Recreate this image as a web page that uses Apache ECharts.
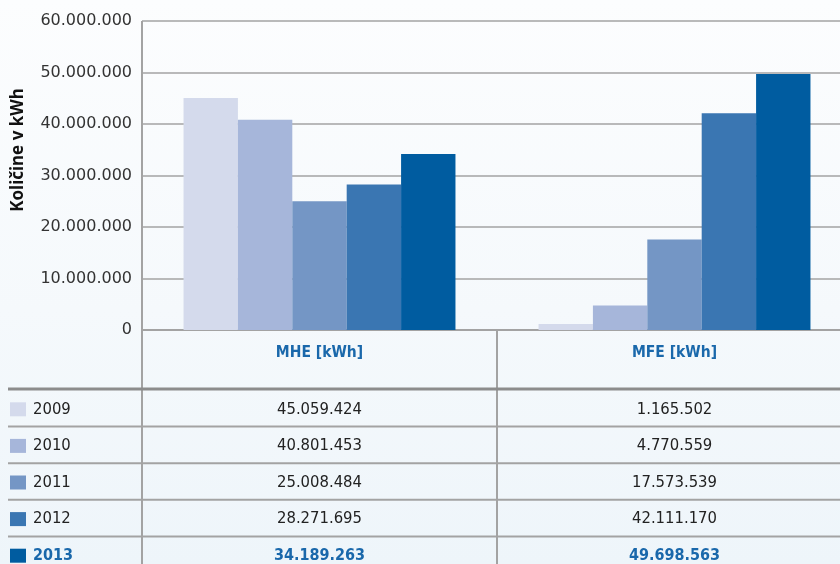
<!DOCTYPE html>
<html>
<head>
<meta charset="utf-8">
<script src="https://cdn.jsdelivr.net/npm/echarts@6/dist/echarts.min.js"></script>
<style>
  html, body { margin: 0; padding: 0; }
  #chart { width: 840px; height: 564px; }
</style>
</head>
<body>
<div id="chart"></div>
<script>
// podatki
var categories = ['MHE [kWh]', 'MFE [kWh]'];
var years = ['2009', '2010', '2011', '2012', '2013'];
var mhe = [45059424, 40801453, 25008484, 28271695, 34189263];
var mfe = [1165502, 4770559, 17573539, 42111170, 49698563];
var colors = ['#d4daec', '#a6b6da', '#7496c5', '#3a76b2', '#005ca0'];
var yTicks = [0, 10000000, 20000000, 30000000, 40000000, 50000000, 60000000];

var narrow = '"Liberation Sans Narrow", "DejaVu Sans Condensed", sans-serif';
var lineCol = '#a3a3a3';
var blue = '#1a68ab';

function fmt(v) {
  return String(v).replace(/\B(?=(\d{3})+(?!\d))/g, '.');
}

var chart = echarts.init(document.getElementById('chart'));

var series = years.map(function (y, i) {
  return {
    name: y,
    type: 'bar',
    data: [mhe[i], mfe[i]],
    barGap: '0%',
    barCategoryGap: '23.4%',
    itemStyle: { color: colors[i] }
  };
});

chart.setOption({
  animation: false,
  backgroundColor: {
    type: 'linear', x: 0, y: 0, x2: 0, y2: 1,
    colorStops: [
      { offset: 0, color: '#fcfdfe' },
      { offset: 0.55, color: '#f5f9fc' },
      { offset: 1, color: '#eef5fa' }
    ]
  },
  grid: { left: 142, top: 21, width: 710, height: 309, outerBoundsMode: 'none', containLabel: false },
  xAxis: {
    type: 'category',
    data: categories,
    axisLine: { lineStyle: { color: lineCol, width: 2 } },
    axisTick: { show: false },
    axisLabel: {
      margin: 15,
      fontFamily: narrow,
      fontSize: 15.5,
      fontWeight: 'bold',
      color: blue
    }
  },
  yAxis: {
    type: 'value',
    min: yTicks[0],
    max: yTicks[yTicks.length - 1],
    interval: 10000000,
    axisLine: { show: false },
    axisTick: { show: false },
    axisLabel: {
      margin: 10,
      fontFamily: 'DejaVu Sans',
      fontSize: 16,
      color: '#333',
      formatter: function (v) { return fmt(v); }
    },
    splitLine: { lineStyle: { color: lineCol, width: 1.5 } }
  },
  series: series
});

// tabela pod grafom
function buildTable() {
  var g = [];
  var x0 = 142, yTop = 21, yAxis0 = 330;
  var headBottom = 389, rowH = 36.6;
  var cols = categories.map(function (c) {
    return chart.convertToPixel({ xAxisIndex: 0 }, c);
  });
  var mid = (cols[0] + cols[1]) / 2;

  // ime osi
  g.push({
    type: 'text', x: 18, y: 150, rotation: Math.PI / 2,
    style: {
      text: 'Količine v kWh', font: 'bold 17px "Noto Sans"', fill: '#111',
      align: 'center', verticalAlign: 'middle'
    }
  });
  // navpične črte
  g.push({ type: 'line', shape: { x1: x0, y1: yTop, x2: x0, y2: 564 }, style: { stroke: lineCol, lineWidth: 2 } });
  g.push({ type: 'line', shape: { x1: mid, y1: yAxis0, x2: mid, y2: 564 }, style: { stroke: lineCol, lineWidth: 2 } });
  // vodoravne črte
  g.push({ type: 'line', shape: { x1: 8, y1: headBottom, x2: 840, y2: headBottom }, style: { stroke: '#8c8c8c', lineWidth: 3 } });

  years.forEach(function (y, i) {
    var top = headBottom + 1 + rowH * i;
    var cy = top + rowH / 2 + 1;
    var last = i === years.length - 1;
    if (i > 0) {
      g.push({ type: 'line', shape: { x1: 8, y1: top, x2: 840, y2: top }, style: { stroke: lineCol, lineWidth: 2 } });
    }
    g.push({ type: 'rect', shape: { x: 10, y: cy - 7, width: 16, height: 14 }, style: { fill: colors[i] } });
    g.push({
      type: 'text', x: 33, y: cy,
      style: {
        text: y, font: (last ? 'bold 16px ' : '16.5px ') + narrow,
        fill: last ? blue : '#222', verticalAlign: 'middle', align: 'left'
      }
    });
    [mhe[i], mfe[i]].forEach(function (v, k) {
      g.push({
        type: 'text', x: cols[k], y: cy,
        style: {
          text: fmt(v), font: (last ? 'bold 16px ' : '16.5px ') + narrow,
          fill: last ? blue : '#222', verticalAlign: 'middle', align: 'center'
        }
      });
    });
  });
  chart.setOption({ graphic: g });
}
buildTable();

window.addEventListener('resize', function () {
  chart.resize();
  buildTable();
});
</script>
</body>
</html>
